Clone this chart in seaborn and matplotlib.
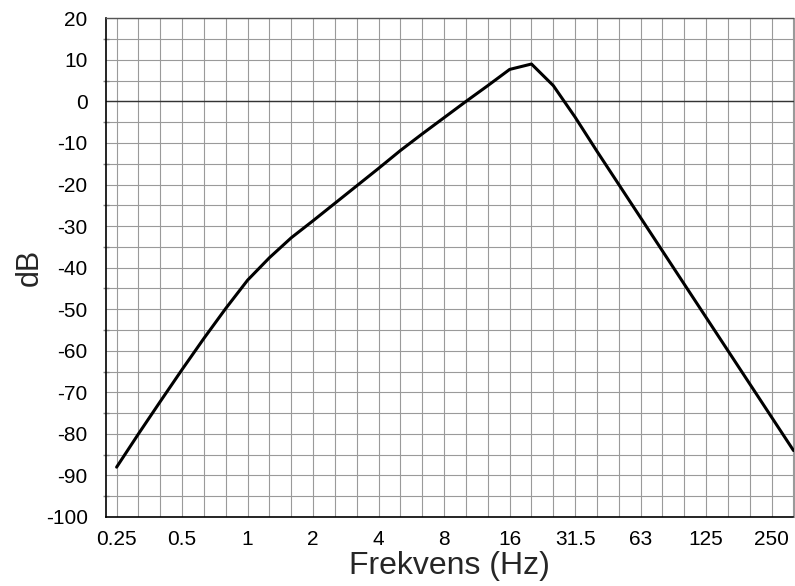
import numpy as np
import pandas as pd
import matplotlib
matplotlib.use("Agg")
import matplotlib.pyplot as plt
import seaborn as sns
from matplotlib.ticker import MultipleLocator

# Third-octave band centre frequencies (Hz)
freqs = ["0.25", "0.315", "0.4", "0.5", "0.63", "0.8", "1", "1.25", "1.6", "2",
         "2.5", "3.15", "4", "5", "6.3", "8", "10", "12.5", "16", "20",
         "25", "31.5", "40", "50", "63", "80", "100", "125", "160", "200",
         "250", "315"]
# Level in dB per band
level_db = [-88, -80, -72.2, -64.5, -57, -49.8, -43, -37.6, -32.8, -28.7,
            -24.5, -20.3, -16.1, -11.8, -7.8, -3.9, 0, 3.8, 7.7, 9.0,
            3.8, -3.8, -12, -20, -28, -36, -44, -52, -60, -68,
            -76, -84]
labelled = ["0.25", "0.5", "1", "2", "4", "8", "16", "31.5", "63", "125", "250"]

df = pd.DataFrame({"band": np.arange(len(freqs)), "dB": level_db})

sns.set_theme(style="white")
plt.rcParams["font.family"] = ["Liberation Sans", "DejaVu Sans"]
plt.rcParams["axes.unicode_minus"] = False

W, H = 795, 586
fig = plt.figure(figsize=(W / 100, H / 100), dpi=100)
left, right, top, bottom = 105.7, 793.5, 18.3, 517.0
ax = fig.add_axes([left / W, 1 - bottom / H, (right - left) / W, (bottom - top) / H])

grid_c = "#9a9a9a"
ax.set_xlim(-0.5, len(freqs) - 1)
ax.set_ylim(-100, 20)

ax.set_xticks(np.arange(len(freqs)))
ax.set_xticklabels([f if f in labelled else "" for f in freqs])
ax.yaxis.set_major_locator(MultipleLocator(10))
ax.yaxis.set_minor_locator(MultipleLocator(5))

ax.grid(True, which="major", axis="x", color=grid_c, lw=0.8)
ax.grid(True, which="both", axis="y", color=grid_c, lw=0.8)
ax.set_axisbelow(True)
ax.axhline(0, color="#333333", lw=1.0, zorder=1.5)

sns.lineplot(data=df, x="band", y="dB", color="black", lw=2.2, ax=ax, zorder=3)

ax.tick_params(axis="x", which="major", direction="inout", length=11, width=1,
               color="#888888", pad=4, labelsize=15, labelcolor="black")
ax.tick_params(axis="y", which="major", direction="inout", length=8, width=1,
               color="#888888", pad=9, labelsize=15, labelcolor="black")
ax.tick_params(axis="y", which="minor", direction="inout", length=5, width=1,
               color="#888888", left=True)

for s in ["left", "bottom"]:
    ax.spines[s].set_color("black")
    ax.spines[s].set_linewidth(1.2)
ax.spines["top"].set_color("#555555")
ax.spines["top"].set_linewidth(1.0)
ax.spines["right"].set_color(grid_c)
ax.spines["right"].set_linewidth(0.8)

ax.set_xlabel("Frekvens (Hz)", fontsize=23, labelpad=1)
ax.set_ylabel("dB", fontsize=22, labelpad=1)

fig.savefig("out.png", dpi=100)
